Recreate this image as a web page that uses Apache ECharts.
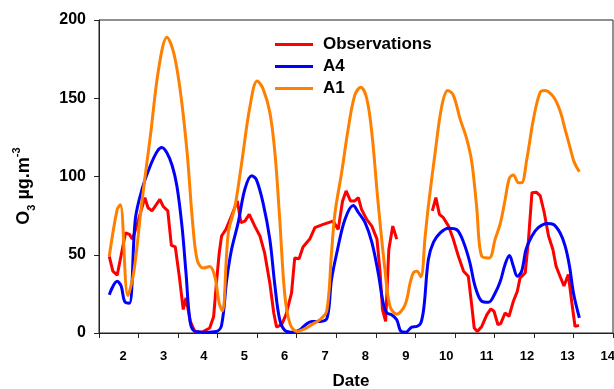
<!DOCTYPE html>
<html>
<head>
<meta charset="utf-8">
<script src="https://cdn.jsdelivr.net/npm/echarts@6/dist/echarts.min.js"></script>
<style>
  html, body { margin: 0; padding: 0; background: #fff; }
  #chart { width: 614px; height: 389px; }
</style>
</head>
<body>
<div id="chart"></div>
<script>
// day labels and day boundaries (ticks)
var dayLabels = ["2", "3", "4", "5", "6", "7", "8", "9", "10", "11", "12", "13", "14"];
var dayTicks = [2, 3, 4, 5, 6, 7, 8, 9, 10, 11, 12, 13, 14, 15];
var yTicks = [0, 50, 100, 150, 200];

// [day, O3] pairs
var observations = [
  [2.26, 49], [2.35, 39.5], [2.46, 37], [2.57, 51], [2.67, 64], [2.77, 63], [2.84, 60], [2.9, 64],
  [3.0, 72.6], [3.16, 86.5], [3.24, 80], [3.34, 78], [3.54, 85.4], [3.62, 81], [3.74, 78], [3.83, 56],
  [3.93, 55], [4.03, 36.3], [4.13, 15], [4.2, 22.4], [4.31, 7.4], [4.42, 1], [4.6, 0.5], [4.8, 3.2],
  [4.9, 10.6], [4.97, 32], [5.04, 51], [5.1, 62], [5.21, 66.2], [5.35, 74.7], [5.5, 84.4], [5.59, 70.5],
  [5.69, 71.5], [5.8, 75.8], [5.94, 68.3], [6.07, 62], [6.19, 51], [6.32, 32], [6.42, 12.8], [6.49, 3.8],
  [6.62, 5.3], [6.73, 11.7], [6.87, 25.6], [6.95, 48], [7.06, 47.4], [7.16, 55], [7.33, 60], [7.46, 67.3],
  [7.67, 69.4], [7.92, 71.5], [8.05, 66.2], [8.16, 84.4], [8.25, 90.8], [8.36, 84.4], [8.47, 84.4], [8.56, 86.5],
  [8.64, 79], [8.77, 72.6], [8.9, 68.3], [9.03, 60], [9.11, 38.5], [9.17, 15], [9.25, 7.4], [9.33, 53.4],
  [9.43, 68.3], [9.53, 60], [9.9, "-"], [10.43, 78], [10.52, 86.5], [10.61, 75.8], [10.71, 73.7], [10.84, 68.3],
  [10.96, 60], [11.09, 49], [11.22, 39.5], [11.34, 36.3], [11.43, 17], [11.49, 3.2], [11.57, 1], [11.68, 4.2],
  [11.81, 11.7], [11.91, 15.4], [11.99, 13.9], [12.09, 5.3], [12.16, 6], [12.27, 12.8], [12.37, 10.6], [12.48, 20.3],
  [12.58, 26.7], [12.65, 35.2], [12.78, 38.5], [12.86, 58.7], [12.95, 89.7], [13.06, 90], [13.16, 87.6], [13.26, 77],
  [13.37, 62], [13.48, 53.4], [13.56, 42.7], [13.66, 36.3], [13.76, 30], [13.87, 37.4], [13.96, 19.2], [14.04, 4.2],
  [14.14, 4.9]
];

var a4 = [
  [2.26, 24.5], [2.46, 33], [2.56, 30], [2.65, 20], [2.77, 19], [2.92, 73], [3.09, 92], [3.3, 107],
  [3.47, 116], [3.59, 118.5], [3.72, 115], [3.85, 107], [3.97, 94], [4.1, 68], [4.2, 38.5], [4.31, 6.4],
  [4.44, 1], [4.68, 0.5], [4.97, 1], [5.1, 5], [5.23, 34], [5.35, 53], [5.52, 70.5], [5.69, 92],
  [5.86, 100.5], [5.98, 98], [6.15, 83], [6.32, 60], [6.45, 30], [6.57, 8.5], [6.7, 1.7], [6.91, 0.5],
  [7.08, 2], [7.21, 5], [7.38, 7.4], [7.59, 7.4], [7.77, 9.6], [7.88, 34], [8.03, 53], [8.22, 72.6],
  [8.43, 81.5], [8.56, 77], [8.73, 70.5], [8.9, 58], [9.06, 38.5], [9.19, 19], [9.28, 12.8], [9.4, 11.7],
  [9.53, 8.5], [9.64, 1], [9.76, 0.5], [9.91, 3.8], [10.04, 4.2], [10.14, 6.4], [10.22, 17], [10.33, 47],
  [10.46, 58], [10.63, 64], [10.84, 67], [11.05, 66], [11.22, 58], [11.38, 45], [11.51, 30], [11.68, 20.3],
  [11.85, 19.6], [12.02, 25.6], [12.15, 33], [12.27, 43.8], [12.38, 49.5], [12.48, 42.7], [12.58, 36.3], [12.69, 39.5],
  [12.8, 53.4], [12.95, 62], [13.11, 67.3], [13.33, 70], [13.49, 69.4], [13.66, 64], [13.79, 55.5], [13.9, 42.7],
  [14.0, 25.6], [14.15, 9.6]
];

var a1 = [
  [2.26, 49], [2.46, 79], [2.54, 82], [2.73, 24], [2.88, 39], [3.09, 85], [3.3, 126], [3.51, 169],
  [3.72, 189], [3.89, 179], [4.06, 154], [4.23, 115], [4.36, 73], [4.48, 47], [4.63, 41.5], [4.8, 42.5],
  [4.93, 36], [5.04, 19], [5.12, 14], [5.27, 64], [5.44, 81], [5.61, 109], [5.82, 145], [6.0, 161],
  [6.15, 156], [6.32, 141], [6.45, 115], [6.57, 73], [6.7, 24], [6.83, 6], [7.0, 1], [7.23, 3],
  [7.42, 6], [7.59, 8.5], [7.76, 14], [7.88, 51], [7.97, 77], [8.14, 103], [8.3, 130], [8.47, 152],
  [8.62, 157], [8.77, 150], [8.9, 128], [9.06, 83], [9.23, 41], [9.36, 17], [9.53, 12], [9.74, 18],
  [9.87, 32], [9.95, 38.5], [10.04, 39.5], [10.14, 36], [10.25, 62], [10.33, 81], [10.5, 115], [10.67, 145],
  [10.82, 155], [10.96, 152], [11.13, 137], [11.3, 124], [11.43, 109], [11.55, 81], [11.68, 49], [11.87, 48],
  [12.02, 60], [12.15, 70], [12.27, 85], [12.38, 99], [12.48, 101], [12.61, 96], [12.69, 96], [12.82, 111],
  [12.99, 137], [13.16, 154], [13.28, 155], [13.49, 151], [13.66, 142], [13.79, 130], [13.92, 118], [14.02, 109],
  [14.15, 103]
];

// the day labels sit a little right of the middle of each day, drifting slowly
var labelAt = dayLabels.map(function (d, i) { return 2.61 + i * 1.0215; });

var chart = echarts.init(document.getElementById("chart"));
var font = "Liberation Sans, Arial, sans-serif";

chart.setOption({
  animation: false,
  textStyle: { fontFamily: font },
  grid: {
    left: 99, right: 1, top: 20, bottom: 56,
    outerBoundsMode: "none",
    show: true, borderColor: "#222", borderWidth: 1
  },
  legend: {
    orient: "vertical",
    left: 275, top: 36, padding: 0,
    itemWidth: 38, itemHeight: 3, itemGap: 5,
    icon: "rect",
    textStyle: { fontSize: 17, fontWeight: "bold", color: "#000", padding: [0, 0, 0, 5] },
    data: ["Observations", "A4", "A1"]
  },
  xAxis: {
    type: "value",
    min: dayTicks[0], max: dayTicks[dayTicks.length - 1],
    name: "Date",
    nameLocation: "middle",
    nameGap: 40,
    nameTextStyle: { fontSize: 17, fontWeight: "bold", color: "#000", padding: [0, 10, 0, 0] },
    axisLine: { lineStyle: { color: "#222", width: 1 } },
    axisTick: { show: true, inside: false, length: 5, lineStyle: { color: "#222" }, customValues: dayTicks },
    axisLabel: {
      fontSize: 13, fontWeight: "bold", color: "#000", margin: 17,
      customValues: labelAt,
      formatter: function (v) {
        var i = Math.round((v - 2.61) / 1.0215);
        return dayLabels[i];
      }
    },
    splitLine: { show: false }
  },
  yAxis: {
    type: "value",
    min: yTicks[0], max: yTicks[yTicks.length - 1], interval: 50,
    axisLine: { show: true, lineStyle: { color: "#222", width: 1 } },
    axisTick: { show: true, inside: false, length: 5, lineStyle: { color: "#222" } },
    axisLabel: { fontSize: 16, fontWeight: "bold", color: "#000", margin: 13 },
    splitLine: { show: false }
  },
  graphic: [{
    type: "text",
    x: 24, y: 186,
    rotation: Math.PI / 2,
    style: {
      text: "O{sub|3} µg.m{sup|-3}",
      font: "bold 18px " + font,
      fill: "#000",
      align: "center",
      verticalAlign: "middle",
      rich: {
        sub: { fontSize: 11, fontWeight: "bold", fontFamily: font, verticalAlign: "bottom", lineHeight: 26 },
        sup: { fontSize: 11, fontWeight: "bold", fontFamily: font, verticalAlign: "top", lineHeight: 26 }
      }
    }
  }],
  series: [
    {
      name: "Observations", type: "line", data: observations,
      showSymbol: false, connectNulls: false,
      lineStyle: { color: "#ff0000", width: 3 }, itemStyle: { color: "#ff0000" }
    },
    {
      name: "A4", type: "line", data: a4,
      showSymbol: false, smooth: 0.35,
      lineStyle: { color: "#0000ff", width: 3 }, itemStyle: { color: "#0000ff" }
    },
    {
      name: "A1", type: "line", data: a1,
      showSymbol: false, smooth: 0.35,
      lineStyle: { color: "#ff8000", width: 3 }, itemStyle: { color: "#ff8000" }
    }
  ]
});
</script>
</body>
</html>
